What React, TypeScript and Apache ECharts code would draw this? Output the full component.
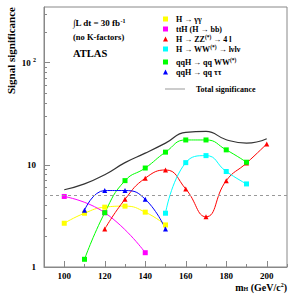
import React, { useEffect, useRef } from "react";
import * as echarts from "echarts";

// ---- data ----
const gammaMass = [100, 110, 120, 130, 140, 150];
const gammaSig = [2.68, 3.36, 3.85, 3.94, 3.44, 2.58];

const tthMass = [100, 120, 140];
const tthSig = [4.9, 3.4, 1.38];

const zzMass = [120, 130, 140, 150, 160, 170, 180, 190, 200];
const zzSig = [2.35, 4.6, 7.4, 8.9, 5.8, 3.1, 7.0, 10.4, 16.0];

const wwMass = [150, 160, 170, 180, 190];
const wwSig = [3.36, 10.5, 12.3, 8.6, 6.5];

const qqWWMass = [110, 120, 130, 140, 150, 160, 170, 180, 190];
const qqWWSig = [1.19, 3.4, 7.0, 9.3, 13.3, 17.5, 17.5, 14.0, 10.6];

const qqTauMass = [110, 120, 130, 140, 150];
const qqTauSig = [3.6, 5.6, 5.6, 4.6, 2.35];

const totalMass = [100, 110, 120, 130, 140, 150, 160, 170, 180, 190, 200];
const totalSig = [5.7, 6.5, 8.0, 10.5, 13.0, 16.3, 20.8, 21.2, 17.6, 16.3, 18.0];

const seriesNames = [
  "H → γγ",
  "ttH (H → bb)",
  "H → ZZ(*) → 4 l",
  "H → WW(*) → lνlν",
  "qqH → qq WW(*)",
  "qqH → qq ττ",
  "Total significance",
];

const xMajorTicks = [100, 120, 140, 160, 180, 200];
const xMinorTicks = [90, 110, 130, 150, 170, 190, 210];
const yMajorTicks = [1, 10, 100];
const yMinorTicks = [2, 3, 4, 5, 6, 7, 8, 9, 20, 30, 40, 50, 60, 70, 80, 90, 200, 300];
const discoveryLevel = 5;

const X_MIN = 90;
const X_MAX = 210;
const Y_MIN = 1;
const Y_MAX = 350;

const SERIF = "'Liberation Serif', 'DejaVu Serif', serif";

function pairs(xs: number[], ys: number[]) {
  return xs.map((x, i) => [x, ys[i]]);
}

export default function App() {
  const ref = useRef<HTMLDivElement>(null);

  useEffect(() => {
    if (!ref.current) return;
    const chart = echarts.init(ref.current, null, { renderer: "svg" });

    const mk = (
      name: string,
      xs: number[],
      ys: number[],
      color: string,
      symbol: string,
      size: number
    ) => ({
      name,
      type: "line",
      xAxisIndex: 0,
      yAxisIndex: 0,
      data: pairs(xs, ys),
      smooth: 0.5,
      symbol,
      symbolSize: size,
      showSymbol: true,
      lineStyle: { color, width: 1 },
      itemStyle: { color },
      emphasis: { disabled: true },
    });

    const logMax = Math.log10(Y_MAX);
    const logMin = Math.log10(Y_MIN);

    const legendText = {
      fontFamily: SERIF,
      fontWeight: "bold",
      fontSize: 8,
      color: "#000",
      lineHeight: 10,
      padding: [0, 0, 0, 3],
      rich: {
        sup: {
          fontFamily: SERIF,
          fontWeight: "bold",
          fontSize: 5.5,
          lineHeight: 10,
          verticalAlign: "top",
          padding: [0, 0, 4, 0],
        },
      },
    };
    const legendFormatter = (n: string) => n.replace("(*)", "{sup|(*)}");

    const option: any = {
      animation: false,
      backgroundColor: "#fff",
      grid: {
        left: 44,
        right: 6,
        top: 7,
        bottom: 33,
        show: true,
        borderColor: "#888",
        borderWidth: 1,
        backgroundColor: "transparent",
      },
      legend: [
        {
          data: [
            { name: seriesNames[0], icon: "rect" },
            { name: seriesNames[1], icon: "rect" },
            { name: seriesNames[2], icon: "triangle" },
            { name: seriesNames[3], icon: "rect" },
          ],
          orient: "vertical",
          left: 163,
          top: 14,
          padding: 0,
          itemGap: 0,
          itemWidth: 5,
          itemHeight: 5,
          selectedMode: false,
          textStyle: legendText,
          formatter: legendFormatter,
        },
        {
          data: [
            { name: seriesNames[4], icon: "rect" },
            { name: seriesNames[5], icon: "triangle" },
          ],
          orient: "vertical",
          left: 163,
          top: 57,
          padding: 0,
          itemGap: 0,
          itemWidth: 5,
          itemHeight: 5,
          selectedMode: false,
          textStyle: legendText,
          formatter: legendFormatter,
        },
        {
          data: [
            { name: seriesNames[6], icon: "rect", itemStyle: { color: "#999" } },
          ],
          orient: "vertical",
          left: 165,
          top: 84,
          padding: 0,
          itemWidth: 20,
          itemHeight: 1,
          selectedMode: false,
          textStyle: { ...legendText, padding: [0, 0, 0, 6] },
        },
      ],
      xAxis: [
        {
          type: "value",
          min: X_MIN,
          max: X_MAX,
          axisLine: { show: true, lineStyle: { color: "#888", width: 1 } },
          axisTick: {
            show: true,
            inside: true,
            length: 6,
            customValues: xMajorTicks,
            lineStyle: { color: "#888" },
          },
          axisLabel: {
            customValues: xMajorTicks,
            color: "#000",
            fontFamily: SERIF,
            fontWeight: "bold",
            fontSize: 9,
            margin: 4,
          },
          splitLine: { show: false },
        },
        {
          type: "value",
          min: X_MIN,
          max: X_MAX,
          position: "bottom",
          axisLine: { show: false },
          axisTick: {
            show: true,
            inside: true,
            length: 3,
            customValues: xMinorTicks,
            lineStyle: { color: "#888" },
          },
          axisLabel: { show: false },
          splitLine: { show: false },
        },
      ],
      yAxis: [
        {
          type: "log",
          logBase: 10,
          min: Y_MIN,
          max: Y_MAX,
          axisLine: { show: true, lineStyle: { color: "#888", width: 1 } },
          axisTick: { show: false },
          axisLabel: { show: false },
          splitLine: { show: false },
          minorTick: { show: false },
        },
        {
          type: "value",
          min: logMin,
          max: logMax,
          position: "left",
          axisLine: { show: false },
          axisTick: {
            show: true,
            inside: true,
            length: 6,
            customValues: yMajorTicks.map((v) => Math.log10(v)),
            lineStyle: { color: "#888" },
          },
          axisLabel: {
            customValues: yMajorTicks.map((v) => Math.log10(v)),
            formatter: (v: number) => {
              const e = Math.round(v);
              if (e === 0) return "{b|1}";
              if (e === 1) return "{b|10}";
              return "{b|10 }{s|" + e + "}";
            },
            margin: 8,
            rich: {
              b: {
                fontFamily: SERIF,
                fontWeight: "bold",
                fontSize: 9,
                color: "#000",
                lineHeight: 12,
              },
              s: {
                fontFamily: SERIF,
                fontWeight: "bold",
                fontSize: 6,
                color: "#000",
                lineHeight: 12,
                verticalAlign: "top",
                padding: [0, 0, 5, 0],
              },
            },
          },
          splitLine: { show: false },
        },
        {
          type: "value",
          min: logMin,
          max: logMax,
          position: "left",
          axisLine: { show: false },
          axisTick: {
            show: true,
            inside: true,
            length: 3,
            customValues: yMinorTicks.map((v) => Math.log10(v)),
            lineStyle: { color: "#888" },
          },
          axisLabel: { show: false },
          splitLine: { show: false },
        },
      ],
      series: [
        mk(seriesNames[0], gammaMass, gammaSig, "#ffff00", "rect", 5),
        mk(seriesNames[1], tthMass, tthSig, "#ff00ff", "rect", 5),
        mk(seriesNames[2], zzMass, zzSig, "#ff0000", "triangle", 5),
        mk(seriesNames[3], wwMass, wwSig, "#00ffff", "rect", 5),
        mk(seriesNames[4], qqWWMass, qqWWSig, "#00ff00", "rect", 5),
        mk(seriesNames[5], qqTauMass, qqTauSig, "#0000ff", "triangle", 5),
        {
          name: seriesNames[6],
          type: "line",
          data: pairs(totalMass, totalSig),
          smooth: 0.5,
          symbol: "none",
          showSymbol: false,
          lineStyle: { color: "#333", width: 1.2 },
          itemStyle: { color: "#333" },
          emphasis: { disabled: true },
          markLine: {
            silent: true,
            symbol: "none",
            label: { show: false },
            lineStyle: { color: "#999", type: [3, 3], width: 1 },
            data: [{ yAxis: discoveryLevel }],
          },
        },
      ],
      graphic: [
        {
          type: "text",
          x: 10.5,
          y: 7,
          rotation: Math.PI / 2,
          style: {
            text: "Signal significance",
            align: "right",
            verticalAlign: "middle",
            fontFamily: SERIF,
            fontWeight: "bold",
            fontSize: 11,
            fill: "#000",
          },
        },
        {
          type: "text",
          right: 6,
          top: 282,
          style: {
            text: "m{sub|H} (GeV/c{sup|2})",
            fontFamily: SERIF,
            fontWeight: "bold",
            fontSize: 10,
            fill: "#000",
            rich: {
              sub: {
                fontFamily: SERIF,
                fontWeight: "bold",
                fontSize: 6,
                verticalAlign: "bottom",
                padding: [4, 0, 0, 0],
              },
              sup: {
                fontFamily: SERIF,
                fontWeight: "bold",
                fontSize: 6,
                verticalAlign: "top",
                padding: [0, 0, 4, 0],
              },
            },
          },
        },
        {
          type: "text",
          left: 73,
          top: 18,
          style: {
            text: "∫L dt = 30 fb{sup|-1}",
            fontFamily: SERIF,
            fontWeight: "bold",
            fontSize: 9,
            fill: "#000",
            rich: {
              sup: {
                fontFamily: SERIF,
                fontWeight: "bold",
                fontSize: 6,
                verticalAlign: "top",
                padding: [0, 0, 4, 0],
              },
            },
          },
        },
        {
          type: "text",
          left: 73,
          top: 32,
          style: {
            text: "(no K-factors)",
            fontFamily: SERIF,
            fontWeight: "bold",
            fontSize: 8.5,
            fill: "#000",
          },
        },
        {
          type: "text",
          left: 73,
          top: 48,
          style: {
            text: "ATLAS",
            fontFamily: SERIF,
            fontWeight: "bold",
            fontSize: 10.5,
            fill: "#000",
          },
        },
      ],
    };

    chart.setOption(option);
    return () => chart.dispose();
  }, []);

  return (
    <div
      ref={ref}
      style={{ position: "absolute", left: 0, top: 0, width: 293, height: 300 }}
    />
  );
}
